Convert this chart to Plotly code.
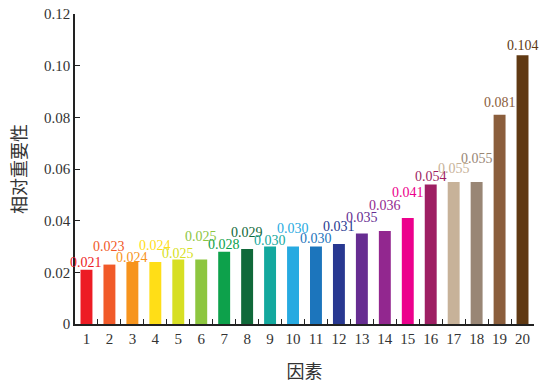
import plotly.graph_objects as go

# Factor indices and their relative importance
factors = [str(i) for i in range(1, 21)]
importance = [0.021, 0.023, 0.024, 0.024, 0.025, 0.025, 0.028, 0.029, 0.030, 0.030,
              0.030, 0.031, 0.035, 0.036, 0.041, 0.054, 0.055, 0.055, 0.081, 0.104]
y_ticks = [0, 0.02, 0.04, 0.06, 0.08, 0.10, 0.12]
y_tick_text = ["0", "0.02", "0.04", "0.06", "0.08", "0.10", "0.12"]

bar_colors = ["#ED1C24", "#F15A29", "#F7941D", "#FFDE17", "#D7DF23", "#8DC63F",
              "#0DA14B", "#10693A", "#13A89E", "#27AAE1", "#1C75BC", "#283891",
              "#662D91", "#92278F", "#EC008C", "#9E1F63", "#C7B299", "#998675",
              "#8B5E3C", "#603913"]

# vertical lift (px) of each value label above its bar, staggered to avoid overlap
label_lift = [7, 18, 5, 17, 6, 23, 7, 17, 6, 18, 8, 17, 16, 26, 26, 8, 13, 23, 12, 10]

serif = "Liberation Serif, Times New Roman, serif"
cjk = "Noto Sans CJK SC"
ink = "#333"

fig = go.Figure(go.Bar(
    x=factors, y=importance, marker_color=bar_colors, marker_line_width=0,
    width=0.52,
))

# category axis: annotation x is the category index
for i, (v, c, dy) in enumerate(zip(importance, bar_colors, label_lift)):
    fig.add_annotation(x=i, y=v, text=f"{v:.3f}", showarrow=False,
                       yanchor="middle", yshift=dy,
                       font=dict(family=serif, size=14, color=c))

fig.update_layout(
    width=539, height=387,
    margin=dict(l=75, r=5, t=14, b=63),
    paper_bgcolor="white", plot_bgcolor="white",
    showlegend=False, bargap=0.48,
    xaxis=dict(
        type="category", range=[-0.5, 19.5],
        showline=True, linecolor="#222", linewidth=1.5,
        ticks="inside", tickson="boundaries", ticklen=5, tickcolor="#222",
        tickangle=0,
        tickfont=dict(family=serif, size=15, color=ink),
        title=dict(text="因素", font=dict(family=cjk, size=18, color=ink), standoff=20),
        showgrid=False,
    ),
    yaxis=dict(
        range=[0, 0.12], tickvals=y_ticks, ticktext=y_tick_text,
        showline=True, linecolor="#222", linewidth=1.5,
        ticks="inside", ticklen=5, tickcolor="#222",
        tickfont=dict(family=serif, size=15, color=ink),
        title=dict(text="相对重要性", font=dict(family=cjk, size=18, color=ink), standoff=13),
        showgrid=False, zeroline=False,
    ),
)

fig.write_html("out.html")
